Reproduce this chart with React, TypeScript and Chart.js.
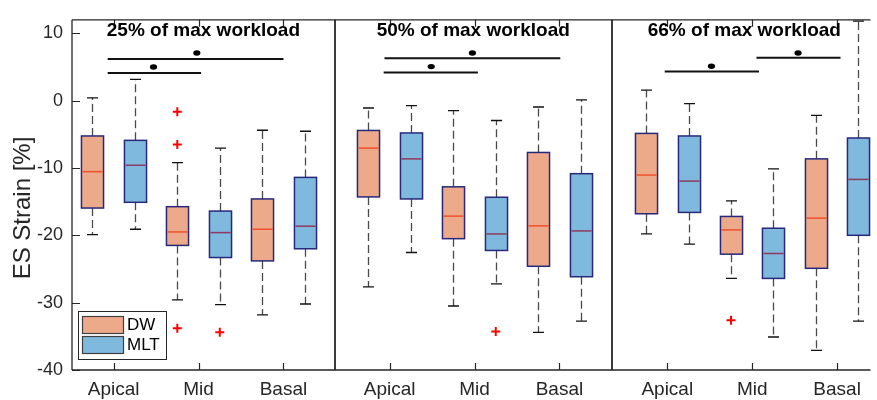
import React, { useEffect, useRef } from 'react';
import { Chart, registerables } from 'chart.js';

Chart.register(...registerables);

const categories = ['Apical', 'Mid', 'Basal'];
const panelTitles = ['25% of max workload', '50% of max workload', '66% of max workload'];
const groupNames = ['DW', 'MLT'];
const yTicks = [-40, -30, -20, -10, 0, 10];
const yTitle = 'ES Strain [%]';

// category centres on the shared x axis, one row per panel
const panelCenters = [
  [1, 2, 3],
  [4.25, 5.25, 6.25],
  [7.52, 8.52, 9.52],
];
// panel borders on the shared x axis
const panelBounds = [
  [0.51, 3.605],
  [3.605, 6.865],
  [6.865, 9.99],
];

// box statistics per category: [lower whisker, Q1, median, Q3, upper whisker]
const dw25 = [[-19.9, -15.95, -10.55, -5.25, 0.4], [-29.6, -21.5, -19.5, -15.75, -9.2], [-31.8, -23.8, -19.1, -14.6, -4.4]];
const mlt25 = [[-19.1, -15.1, -9.6, -5.9, 3.15], [-30.3, -23.3, -19.6, -16.4, -7.05], [-30.2, -22.0, -18.65, -11.4, -4.55]];
const dw50 = [[-27.65, -14.3, -7.05, -4.43, -1.1], [-30.5, -20.5, -17.15, -12.8, -1.5], [-34.4, -24.6, -18.6, -7.7, -0.95]];
const mlt50 = [[-22.55, -14.6, -8.65, -4.8, -0.75], [-27.2, -22.25, -19.8, -14.35, -2.95], [-32.75, -26.15, -19.35, -10.85, 0.1]];
const dw66 = [[-19.8, -16.8, -11.05, -4.87, 1.55], [-26.4, -22.8, -19.2, -17.2, -14.9], [-37.1, -24.9, -17.45, -8.65, -2.2]];
const mlt66 = [[-21.3, -16.6, -11.95, -5.25, -0.45], [-35.1, -26.4, -22.7, -18.95, -10.15], [-32.75, -20.0, -11.7, -5.55, 11.8]];

// outliers per category
const dw25Out = [[], [-1.65, -6.5, -33.8], []];
const mlt25Out = [[], [-34.4], []];
const dw50Out = [[], [], []];
const mlt50Out = [[], [-34.3], []];
const dw66Out = [[], [-32.6], []];
const mlt66Out = [[], [], []];

// significance bars: [from x, to x, bar y, dot x, dot y]
const sig25 = [[0.93, 3.0, 6.17, 1.98, 7.08], [0.93, 2.03, 4.1, 1.47, 5.0]];
const sig50 = [[4.19, 6.26, 6.28, 5.225, 7.06], [4.18, 5.29, 4.18, 4.74, 5.05]];
const sig66 = [[7.49, 8.6, 4.32, 8.04, 5.1], [8.57, 9.56, 6.37, 9.06, 7.07]];

const boxData = [[dw25, mlt25], [dw50, mlt50], [dw66, mlt66]];
const outData = [[dw25Out, mlt25Out], [dw50Out, mlt50Out], [dw66Out, mlt66Out]];
const sigData = [sig25, sig50, sig66];

const fillColors = ['#EDAA8B', '#80B9DE'];
const medianColors = ['#F0502A', '#8E3A5C'];
const edgeColor = '#27287C';
const axisColor = '#262626';
const FONT = '"Liberation Sans", Arial, Helvetica, sans-serif';
const GROUP_OFFSET = 0.25;
const BOX_HALF = 0.13;

export default function App() {
  const ref = useRef<HTMLCanvasElement | null>(null);

  useEffect(() => {
    if (!ref.current) return;
    const allCenters = panelCenters.flat();
    const outlierPoints: { x: number; y: number }[] = [];
    outData.forEach((panel, p) =>
      panel.forEach((grp, g) =>
        grp.forEach((vals, c) =>
          vals.forEach((v) =>
            outlierPoints.push({ x: panelCenters[p][c] + (g === 0 ? -GROUP_OFFSET : GROUP_OFFSET), y: v })
          )
        )
      )
    );

    const boxPlugin = {
      id: 'boxes',
      beforeDatasetsDraw(chart: any) {
        const ctx = chart.ctx;
        const xs = chart.scales.x;
        const ys = chart.scales.y;
        ctx.save();
        // boxes
        boxData.forEach((panel, p) => {
          panel.forEach((grp, g) => {
            grp.forEach((st, c) => {
              const xv = panelCenters[p][c] + (g === 0 ? -GROUP_OFFSET : GROUP_OFFSET);
              const xc = Math.round(xs.getPixelForValue(xv)) + 0.5;
              const hw = (xs.getPixelForValue(xv + BOX_HALF) - xs.getPixelForValue(xv - BOX_HALF)) / 2;
              const [lo, q1, med, q3, hi] = st;
              const yLo = ys.getPixelForValue(lo);
              const yQ1 = ys.getPixelForValue(q1);
              const yMed = ys.getPixelForValue(med);
              const yQ3 = ys.getPixelForValue(q3);
              const yHi = ys.getPixelForValue(hi);
              // whiskers
              ctx.strokeStyle = '#4a4a4a';
              ctx.lineWidth = 1.3;
              ctx.setLineDash([8, 4]);
              ctx.beginPath();
              ctx.moveTo(xc, yQ3);
              ctx.lineTo(xc, yHi);
              ctx.moveTo(xc, yQ1);
              ctx.lineTo(xc, yLo);
              ctx.stroke();
              ctx.setLineDash([]);
              // caps
              ctx.strokeStyle = '#111111';
              ctx.beginPath();
              ctx.moveTo(xc - hw / 2, yHi);
              ctx.lineTo(xc + hw / 2, yHi);
              ctx.moveTo(xc - hw / 2, yLo);
              ctx.lineTo(xc + hw / 2, yLo);
              ctx.stroke();
              // box
              ctx.fillStyle = fillColors[g];
              ctx.fillRect(xc - hw, yQ3, 2 * hw, yQ1 - yQ3);
              ctx.strokeStyle = edgeColor;
              ctx.lineWidth = 1.5;
              ctx.strokeRect(xc - hw, yQ3, 2 * hw, yQ1 - yQ3);
              // median
              ctx.strokeStyle = medianColors[g];
              ctx.lineWidth = 1.5;
              ctx.beginPath();
              ctx.moveTo(xc - hw + 1, yMed);
              ctx.lineTo(xc + hw - 1, yMed);
              ctx.stroke();
            });
          });
        });
        // significance bars
        sigData.forEach((bars) => {
          bars.forEach(([x0, x1, yb, dx, dy]) => {
            ctx.strokeStyle = '#111111';
            ctx.lineWidth = 2;
            ctx.beginPath();
            ctx.moveTo(xs.getPixelForValue(x0), ys.getPixelForValue(yb));
            ctx.lineTo(xs.getPixelForValue(x1), ys.getPixelForValue(yb));
            ctx.stroke();
            ctx.fillStyle = '#000000';
            ctx.beginPath();
            ctx.ellipse(xs.getPixelForValue(dx), ys.getPixelForValue(dy), 3.6, 2.7, 0, 0, Math.PI * 2);
            ctx.fill();
          });
        });
        ctx.restore();
      },
      afterDatasetsDraw(chart: any) {
        const ctx = chart.ctx;
        const xs = chart.scales.x;
        const ys = chart.scales.y;
        const ca = chart.chartArea;
        ctx.save();
        // axes frame
        ctx.strokeStyle = axisColor;
        ctx.lineWidth = 1.3;
        ctx.beginPath();
        ctx.moveTo(ca.left, ca.top);
        ctx.lineTo(ca.right, ca.top);
        ctx.moveTo(ca.left, ca.bottom);
        ctx.lineTo(ca.right, ca.bottom);
        ctx.moveTo(ca.left, ca.top);
        ctx.lineTo(ca.left, ca.bottom);
        ctx.stroke();
        ctx.lineWidth = 1.8;
        ctx.beginPath();
        panelBounds.slice(1).forEach(([b0]) => {
          const px = Math.round(xs.getPixelForValue(b0));
          ctx.moveTo(px, ca.top);
          ctx.lineTo(px, ca.bottom);
        });
        ctx.stroke();
        // inward tick marks
        ctx.lineWidth = 1.2;
        ctx.beginPath();
        allCenters.forEach((v) => {
          const px = Math.round(xs.getPixelForValue(v)) + 0.5;
          ctx.moveTo(px, ca.bottom);
          ctx.lineTo(px, ca.bottom - 7);
          ctx.moveTo(px, ca.top);
          ctx.lineTo(px, ca.top + 7);
        });
        yTicks.forEach((v) => {
          const py = Math.round(ys.getPixelForValue(v)) + 0.5;
          ctx.moveTo(ca.left, py);
          ctx.lineTo(ca.left + 8, py);
        });
        ctx.stroke();
        // panel titles
        ctx.fillStyle = '#000000';
        ctx.font = `bold 19px ${FONT}`;
        ctx.textAlign = 'center';
        ctx.textBaseline = 'middle';
        panelTitles.forEach((t, p) => {
          const cx = (xs.getPixelForValue(panelBounds[p][0]) + xs.getPixelForValue(panelBounds[p][1])) / 2;
          ctx.fillText(t, cx, 30.5);
        });
        // y title
        ctx.save();
        ctx.fillStyle = axisColor;
        ctx.font = `24px ${FONT}`;
        ctx.translate(30, 208);
        ctx.rotate(-Math.PI / 2);
        ctx.textAlign = 'center';
        ctx.textBaseline = 'alphabetic';
        ctx.fillText(yTitle, 0, 0);
        ctx.restore();
        // legend
        const lx = ca.left + 6;
        const ly = ca.bottom - 59;
        ctx.fillStyle = '#ffffff';
        ctx.fillRect(lx, ly, 88, 48);
        ctx.strokeStyle = axisColor;
        ctx.lineWidth = 1;
        ctx.strokeRect(lx + 0.5, ly + 0.5, 88, 48);
        groupNames.forEach((name, g) => {
          const py = ly + 5 + g * 20;
          ctx.fillStyle = fillColors[g];
          ctx.fillRect(lx + 4, py, 41, 17);
          ctx.strokeStyle = '#404040';
          ctx.lineWidth = 1.2;
          ctx.strokeRect(lx + 4.5, py + 0.5, 41, 17);
          ctx.fillStyle = '#000000';
          ctx.font = `17px ${FONT}`;
          ctx.textAlign = 'left';
          ctx.textBaseline = 'middle';
          ctx.fillText(name, lx + 49, py + 9.5);
        });
        ctx.restore();
      },
    };

    const chart = new Chart(ref.current, {
      type: 'scatter',
      data: {
        datasets: [
          {
            label: 'outliers',
            data: outlierPoints,
            pointStyle: 'cross',
            radius: 4.5,
            borderColor: '#FF0000',
            backgroundColor: '#FF0000',
            borderWidth: 2,
          },
        ],
      },
      options: {
        animation: false,
        responsive: false,
        events: [],
        layout: { padding: { top: 14, left: 0, right: 0, bottom: 0 } },
        plugins: { legend: { display: false }, tooltip: { enabled: false } },
        scales: {
          x: {
            type: 'linear',
            min: 0.51,
            max: 9.913,
            grid: { display: false, drawTicks: false },
            border: { display: false },
            afterBuildTicks: (s: any) => {
              s.ticks = allCenters.map((v) => ({ value: v }));
            },
            afterFit: (s: any) => {
              s.height = 30;
            },
            ticks: {
              autoSkip: false,
              maxRotation: 0,
              padding: 8,
              color: axisColor,
              font: { family: FONT, size: 19 },
              callback: (_v: any, i: number) => categories[i % 3],
            },
          },
          y: {
            type: 'linear',
            min: -40,
            max: 12,
            grid: { display: false, drawTicks: false },
            border: { display: false },
            afterBuildTicks: (s: any) => {
              s.ticks = yTicks.map((v) => ({ value: v }));
            },
            afterFit: (s: any) => {
              s.width = 72;
            },
            ticks: {
              padding: 9,
              color: axisColor,
              font: { family: FONT, size: 18 },
            },
          },
        },
      },
      plugins: [boxPlugin],
    });
    return () => chart.destroy();
  }, []);

  return (
    <div style={{ position: 'absolute', left: 0, top: 0, width: 877, height: 400, background: '#ffffff' }}>
      <canvas ref={ref} width={877} height={400} />
    </div>
  );
}
